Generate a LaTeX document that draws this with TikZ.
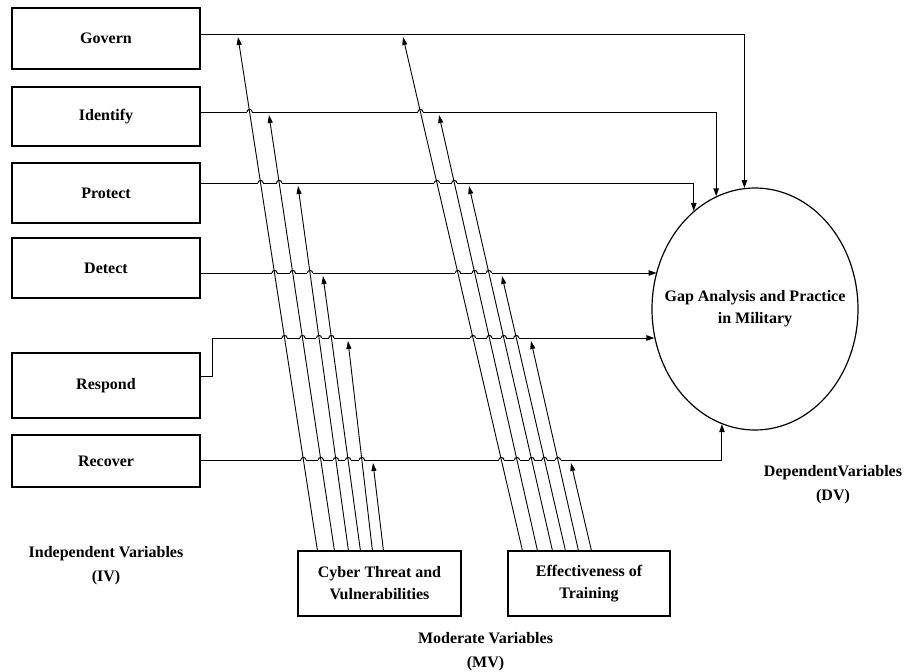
\documentclass[tikz,border=0pt]{standalone}
\usepackage{fontspec}
\setmainfont{Liberation Serif}
\usetikzlibrary{arrows.meta,shapes.geometric,calc}
\begin{document}
\begin{tikzpicture}[x=1pt,y=-1pt,
  txt/.style={font=\bfseries\fontsize{16}{22}\selectfont, align=center},
  lbl/.style={font=\bfseries\fontsize{16}{24}\selectfont, align=center},
  ivbox/.style={draw, line width=1.2pt, minimum width=188pt, txt, inner sep=0pt},
  mvbox/.style={draw, line width=1.2pt, minimum width=163pt, minimum height=65pt, txt, inner sep=0pt},
  conn/.style={line width=1pt, -{Triangle[length=8pt,width=5.5pt]}},
  diag/.style={line width=0.9pt, -{Triangle[length=8pt,width=5pt]}},
  hop/.style={line width=1pt},
]
\useasboundingbox (0,0) rectangle (905,672);

% independent variables
\node[ivbox, minimum height=61pt] (govern)   at (106,38.5)  {Govern};
\node[ivbox, minimum height=59pt] (identify) at (106,116.5) {Identify};
\node[ivbox, minimum height=60pt] (protect)  at (106,193)   {Protect};
\node[ivbox, minimum height=60pt] (detect)   at (106,268)   {Detect};
\node[ivbox, minimum height=65pt] (respond)  at (106,385.5) {Respond};
\node[ivbox, minimum height=52pt] (recover)  at (106,461)   {Recover};

% dependent variable
\node[draw, ellipse, line width=1.2pt, minimum width=206pt, minimum height=242pt, inner sep=0pt,
      label={[txt]center:Gap Analysis and Practice\\in Military}] (ell) at (755,309) {};

% moderate variables
\node[mvbox] (cyber) at (379.5,583.5) {Cyber Threat and\\Vulnerabilities};
\node[mvbox, minimum width=162pt] (train) at (589,583.5) {Effectiveness of\\Training};

% labels
\node[lbl] (iv) at (106,565.5) {Independent Variables\\(IV)};
\node[lbl] (mv) at (485.5,651.5) {Moderate Variables\\(MV)};
\node[lbl] (dv) at (833,484.5) {DependentVariables\\(DV)};

% horizontal levels
\coordinate (hL1) at (0,34);  \coordinate (hR1) at (900,34);
\coordinate (hL2) at (0,112); \coordinate (hR2) at (900,112);
\coordinate (hL3) at (0,183); \coordinate (hR3) at (900,183);
\coordinate (hL4) at (0,273); \coordinate (hR4) at (900,273);
\coordinate (hL5) at (0,338); \coordinate (hR5) at (900,338);
\coordinate (hL6) at (0,460); \coordinate (hR6) at (900,460);
\coordinate (rs)  at (0,376);

% diagonal end points
\coordinate (a1b) at ($(cyber.north west)+(20,0)$);
\coordinate (a2b) at ($(cyber.north west)+(37,0)$);
\coordinate (a3b) at ($(cyber.north west)+(51,0)$);
\coordinate (a4b) at ($(cyber.north west)+(63,0)$);
\coordinate (a5b) at ($(cyber.north west)+(75,0)$);
\coordinate (a6b) at ($(cyber.north west)+(86,0)$);
\coordinate (a1t) at (238,37);
\coordinate (a2t) at (269,115);
\coordinate (a3t) at (298,186);
\coordinate (a4t) at (323,276);
\coordinate (a5t) at (348,341);
\coordinate (a6t) at (373,463);
\coordinate (b1b) at ($(train.north west)+(15,0)$);
\coordinate (b2b) at ($(train.north west)+(30,0)$);
\coordinate (b3b) at ($(train.north west)+(45,0)$);
\coordinate (b4b) at ($(train.north west)+(58,0)$);
\coordinate (b5b) at ($(train.north west)+(71,0)$);
\coordinate (b6b) at ($(train.north west)+(84,0)$);
\coordinate (b1t) at (403,37);
\coordinate (b2t) at (439,115);
\coordinate (b3t) at (469,186);
\coordinate (b4t) at (502,276);
\coordinate (b5t) at (531,341);
\coordinate (b6t) at (571,463);

% IV -> DV connectors
\draw[conn] (govern.east |- hL1) -| (ell.95.2);
\draw[conn] (identify.east |- hL2) -| (ell.109.7);
\draw[conn] (protect.east |- hL3) -| (ell.122.7);
\draw[conn] (detect.east |- hL4) -- (hL4 -| ell.159.9);
\draw[conn] (respond.east |- rs) -- ++(12,0) |- (hL5 -| ell.196.2);
\draw[conn] (recover.east |- hL6) -| (ell.254.4);

% line hops where moderators cross
\foreach \g in {a,b}{
  \foreach \i in {1,...,5}{
    \pgfmathtruncatemacro{\s}{\i+1}
    \foreach \j in {\s,...,6}{
      \coordinate (X) at (intersection of \g\i b--\g\i t and hL\j--hR\j);
      \fill[white] ($(X)+(-2.6,-1.3)$) rectangle ($(X)+(2.6,1.3)$);
      \draw[hop] ($(X)+(-2.6,0)$) arc[start angle=180,end angle=0,radius=2.6pt];
    }
  }
}

% moderator connectors
\foreach \g in {a,b}{
  \foreach \i in {1,...,6}{
    \draw[diag] (\g\i b) -- (\g\i t);
  }
}
\end{tikzpicture}
\end{document}
